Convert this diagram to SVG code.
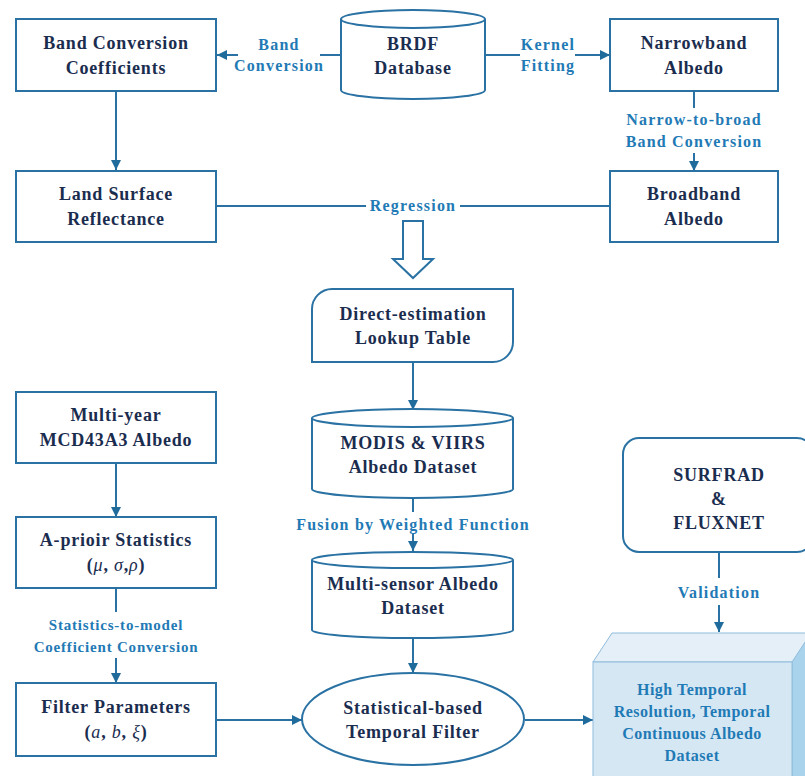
<svg xmlns="http://www.w3.org/2000/svg" width="805" height="776" viewBox="0 0 805 776">
<defs>
<marker id="ah" viewBox="0 0 10 10" refX="10" refY="5" markerWidth="10" markerHeight="10" markerUnits="userSpaceOnUse" orient="auto">
<path d="M0,0 L10,5 L0,10 Z" fill="#1f6b9b"/>
</marker>
<style>
.box{fill:#fff;stroke:#2a72a3;stroke-width:2}
.ln{fill:none;stroke:#2a72a3;stroke-width:2}
text{font-family:'Liberation Serif','Times New Roman','DejaVu Serif',serif;font-weight:bold}
.t{font-size:18px;fill:#1b2d4f;text-anchor:middle;letter-spacing:0.8px}
.l{font-size:16px;fill:#1f7ab5;text-anchor:middle;letter-spacing:1.2px}
.s{font-size:15px;letter-spacing:0.8px}
.b{font-size:16px;fill:#1f7ab5;text-anchor:middle;letter-spacing:0.5px}
.i{font-style:italic;font-weight:normal}
</style>
</defs>
<rect width="805" height="776" fill="#fff"/>

<g id="connectors">
<path class="ln" d="M341,55 H320"/>
<path class="ln" d="M238,55 H217" marker-end="url(#ah)"/>
<text class="l" x="279" y="50">Band</text>
<text class="l" x="279" y="71">Conversion</text>
<path class="ln" d="M485,55 H520"/>
<path class="ln" d="M575,55 H610" marker-end="url(#ah)"/>
<text class="l" x="548" y="50">Kernel</text>
<text class="l" x="548" y="71">Fitting</text>
<path class="ln" d="M116,91 V170" marker-end="url(#ah)"/>
<path class="ln" d="M694,91 V108"/>
<text class="l" x="694" y="125">Narrow-to-broad</text>
<text class="l" x="694" y="147">Band Conversion</text>
<path class="ln" d="M694,153 V171" marker-end="url(#ah)"/>
<path class="ln" d="M216,206 H366"/>
<path class="ln" d="M460,206 H610"/>
<text class="l" x="413" y="211">Regression</text>
<path d="M403,221 H423 V259 H433 L413,278 L393,259 H403 Z" fill="#fff" stroke="#2a72a3" stroke-width="2"/>
<path class="ln" d="M413,362 V410" marker-end="url(#ah)"/>
<path class="ln" d="M413,498 V512"/>
<text class="l" x="413" y="530">Fusion by Weighted Function</text>
<path class="ln" d="M413,534 V551" marker-end="url(#ah)"/>
<path class="ln" d="M413,638 V673" marker-end="url(#ah)"/>
<path class="ln" d="M116,463 V517" marker-end="url(#ah)"/>
<path class="ln" d="M116,588 V612"/>
<text class="l s" x="116" y="630">Statistics-to-model</text>
<text class="l s" x="116" y="652">Coefficient Conversion</text>
<path class="ln" d="M116,658 V683" marker-end="url(#ah)"/>
<path class="ln" d="M216,720 H302" marker-end="url(#ah)"/>
<path class="ln" d="M525,720 H593" marker-end="url(#ah)"/>
<path class="ln" d="M719,552 V578"/>
<text class="l" x="719" y="598">Validation</text>
<path class="ln" d="M719,605 V632" marker-end="url(#ah)"/>
</g>

<g id="band-conversion-coefficients">
<rect class="box" x="16" y="19" width="200" height="72"/>
<text class="t" x="116" y="49">Band Conversion</text>
<text class="t" x="116" y="74">Coefficients</text>
</g>

<g id="brdf-database">
<path class="box" d="M341,19 A72,9 0 0 1 485,19 V90 A72,9 0 0 1 341,90 Z"/>
<path class="ln" d="M341,19 A72,9 0 0 0 485,19"/>
<text class="t" x="413" y="50">BRDF</text>
<text class="t" x="413" y="74">Database</text>
</g>

<g id="narrowband-albedo">
<rect class="box" x="610" y="19" width="168" height="72"/>
<text class="t" x="694" y="49">Narrowband</text>
<text class="t" x="694" y="74">Albedo</text>
</g>

<g id="land-surface-reflectance">
<rect class="box" x="16" y="171" width="200" height="71"/>
<text class="t" x="116" y="200">Land Surface</text>
<text class="t" x="116" y="225">Reflectance</text>
</g>

<g id="broadband-albedo">
<rect class="box" x="610" y="171" width="168" height="71"/>
<text class="t" x="694" y="200">Broadband</text>
<text class="t" x="694" y="225">Albedo</text>
</g>

<g id="direct-estimation-lut">
<path class="box" d="M332,289 H513 V342 A20,20 0 0 1 493,362 H312 V309 A20,20 0 0 1 332,289 Z"/>
<text class="t" x="413" y="320">Direct-estimation</text>
<text class="t" x="413" y="344">Lookup Table</text>
</g>

<g id="modis-viirs">
<path class="box" d="M312,418 A100.5,9 0 0 1 513,418 V489 A100.5,9 0 0 1 312,489 Z"/>
<path class="ln" d="M312,418 A100.5,9 0 0 0 513,418"/>
<text class="t" x="413" y="449">MODIS &amp; VIIRS</text>
<text class="t" x="413" y="473">Albedo Dataset</text>
</g>

<g id="multi-sensor">
<path class="box" d="M312,560 A100.5,8 0 0 1 513,560 V630 A100.5,8 0 0 1 312,630 Z"/>
<path class="ln" d="M312,560 A100.5,8 0 0 0 513,560"/>
<text class="t" x="413" y="590">Multi-sensor Albedo</text>
<text class="t" x="413" y="614">Dataset</text>
</g>

<g id="temporal-filter">
<ellipse class="box" cx="413" cy="719" rx="111" ry="46"/>
<text class="t" x="413" y="714">Statistical-based</text>
<text class="t" x="413" y="738">Temporal Filter</text>
</g>

<g id="multi-year">
<rect class="box" x="16" y="392" width="200" height="71"/>
<text class="t" x="116" y="421">Multi-year</text>
<text class="t" x="116" y="446">MCD43A3 Albedo</text>
</g>

<g id="a-prioir">
<rect class="box" x="16" y="517" width="200" height="71"/>
<text class="t" x="116" y="546">A-prioir Statistics</text>
<text class="t" x="116" y="571">(<tspan class="i">μ</tspan>, <tspan class="i">σ</tspan>,<tspan class="i">ρ</tspan>)</text>
</g>

<g id="filter-parameters">
<rect class="box" x="16" y="683" width="200" height="73"/>
<text class="t" x="116" y="713">Filter Parameters</text>
<text class="t" x="116" y="738">(<tspan class="i">a</tspan>, <tspan class="i">b</tspan>, <tspan class="i">ξ</tspan>)</text>
</g>

<g id="surfrad-fluxnet">
<rect class="box" x="623" y="438" width="190" height="114" rx="16"/>
<text class="t" x="719" y="481">SURFRAD</text>
<text class="t" x="719" y="505">&amp;</text>
<text class="t" x="719" y="529">FLUXNET</text>
</g>

<g id="output-dataset">
<polygon points="593,662 612,633 820,633 801,662" fill="#e4eff8" stroke="#8fbcdc" stroke-width="1"/>
<polygon points="792,662 811,633 811,790 792,790" fill="#a9d2ec" stroke="#8fbcdc" stroke-width="1"/>
<rect x="593" y="662" width="199" height="130" fill="#d6e7f4" stroke="#8fbcdc" stroke-width="1"/>
<text class="b" x="692" y="695">High Temporal</text>
<text class="b" x="692" y="717">Resolution, Temporal</text>
<text class="b" x="692" y="739">Continuous Albedo</text>
<text class="b" x="692" y="761">Dataset</text>
</g>
</svg>
